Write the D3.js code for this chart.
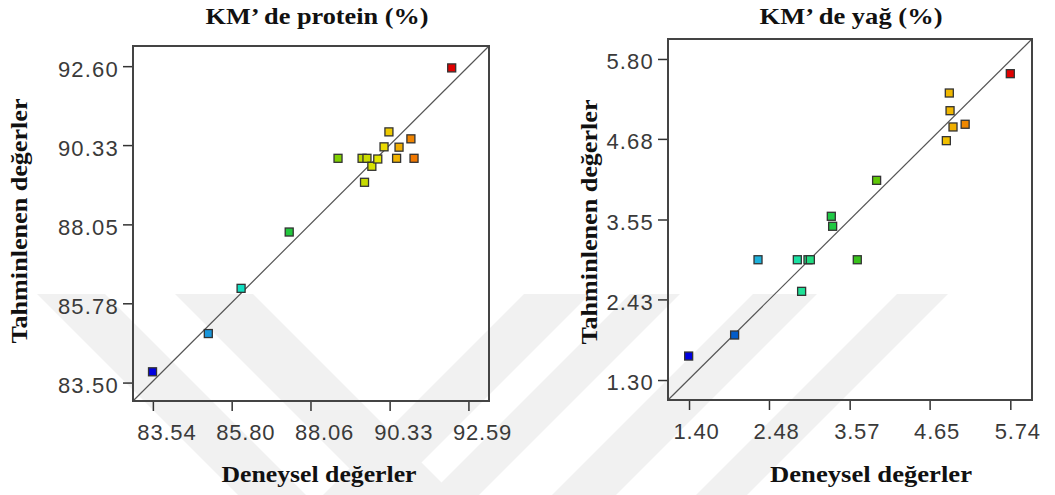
<!DOCTYPE html>
<html>
<head>
<meta charset="utf-8">
<script src="https://cdn.jsdelivr.net/npm/d3@7"></script>
<style>
  body { margin: 0; background: #fff; }
  .tick text { font-family: "Liberation Sans", Arial, sans-serif; font-size: 22px; fill: #3a3a3a; }
  .lbl { font-family: "Liberation Serif", "Times New Roman", serif; font-weight: bold; font-size: 24px; fill: #111; }
</style>
</head>
<body>
<div id="chart"></div>
<script>
var proteinTitle = "KM\u2019 de protein (%)";
var proteinExp  = [83.53, 85.13, 86.07, 87.45, 88.85, 89.54, 89.68, 89.82, 89.61, 89.99, 90.17, 90.31, 90.60, 90.53, 90.94, 91.03, 92.11];
var proteinPred = [83.81, 84.91, 86.21, 87.83, 89.95, 89.95, 89.95, 89.72, 89.26, 89.93, 90.28, 90.71, 90.27, 89.95, 90.51, 89.95, 92.55];
var proteinXTicks = [83.54, 85.80, 88.06, 90.33, 92.59];
var proteinYTicks = [83.50, 85.78, 88.05, 90.33, 92.60];
var proteinDomain = [82.97, 93.18];

var fatTitle = "KM\u2019 de ya\u011f (%)";
var fatExp  = [1.395, 2.016, 2.332, 2.863, 2.921, 3.007, 3.039, 3.322, 3.340, 3.673, 3.934, 4.876, 4.916, 4.926, 4.966, 5.13, 5.74];
var fatPred = [1.636, 1.931, 2.986, 2.986, 2.543, 2.986, 2.986, 3.595, 3.455, 2.986, 4.099, 4.655, 5.323, 5.075, 4.847, 4.885, 5.594];
var fatXTicks = [1.40, 2.48, 3.57, 4.65, 5.74];
var fatYTicks = [1.30, 2.43, 3.55, 4.68, 5.80];
var fatXDomain = [1.116, 6.033];
var fatYDomain = [1.02, 6.08];

var xLabel = "Deneysel de\u011ferler";
var yLabel = "Tahminlenen de\u011ferler";

var svgWidth = 1055;
var svgHeight = 495;

var svg = d3.select("#chart")
  .append("svg")
  .attr("width", svgWidth)
  .attr("height", svgHeight);

// faint watermark bands behind the charts (top edge at y~294, 45 degrees)
var bands = [
  { x0: 37, x1: 105, dir: 1 },
  { x0: 175, x1: 253, dir: 1 },
  { x0: 524, x1: 590, dir: -1 },
  { x0: 630, x1: 680, dir: -1 },
  { x0: 753, x1: 817, dir: -1 },
  { x0: 897, x1: 948, dir: -1 }
];
var bandTop = 294;
var drop = svgHeight - bandTop;
svg.append("g")
  .selectAll("polygon")
  .data(bands)
  .enter()
  .append("polygon")
  .attr("points", b => [
    [b.x0, bandTop], [b.x1, bandTop],
    [b.x1 + b.dir * drop, svgHeight], [b.x0 + b.dir * drop, svgHeight]
  ].join(" "))
  .attr("fill", "#f1f1f1");

// jet-like colours, by experimental value
var colorStops = [0, 0.14, 0.2, 0.3, 0.36, 0.45, 0.55, 0.62, 0.7, 0.76, 0.8, 0.84, 0.88, 1];
var colorRange = ["#0000e0", "#0058c8", "#20a8e0", "#10e0c0", "#20e090", "#20c840", "#40c010",
                  "#80d000", "#c0d800", "#e8e800", "#f0c000", "#f0a000", "#f07000", "#e00000"];

function drawPanel(p) {
  var g = svg.append("g")
    .attr("transform", `translate(${p.left}, ${p.top})`);

  var xScale = d3.scaleLinear().domain(p.xDomain).range([0, p.width]);
  var yScale = d3.scaleLinear().domain(p.yDomain).range([p.height, 0]);

  var tScale = d3.scaleLinear().domain(d3.extent(p.xs)).range([0, 1]);
  var color = d3.scaleLinear().domain(colorStops).range(colorRange);

  // x axis
  var xAxis = g.append("g")
    .attr("transform", `translate(0, ${p.height})`)
    .call(d3.axisBottom(xScale).tickValues(p.xTicks).tickSize(10).tickFormat(d3.format(".2f")));
  xAxis.select(".domain").remove();
  xAxis.selectAll("line").attr("stroke", "#333").attr("stroke-width", 1.5);
  xAxis.selectAll("text")
    .attr("text-anchor", "start")
    .attr("x", -16)
    .attr("y", 39)
    .attr("dy", null)
    .style("letter-spacing", "0.8px");

  // y axis
  var yAxis = g.append("g")
    .call(d3.axisLeft(yScale).tickValues(p.yTicks).tickSize(10).tickFormat(d3.format(".2f")));
  yAxis.select(".domain").remove();
  yAxis.selectAll("line").attr("stroke", "#333").attr("stroke-width", 1.5);
  yAxis.selectAll("text")
    .attr("x", -14)
    .attr("dy", "0.45em")
    .style("letter-spacing", "1.2px");

  // reference line
  g.append("line")
    .attr("x1", xScale(p.xDomain[0]))
    .attr("y1", yScale(p.yDomain[0]))
    .attr("x2", xScale(p.xDomain[1]))
    .attr("y2", yScale(p.yDomain[1]))
    .attr("stroke", "#555")
    .attr("stroke-width", 1.2);

  // points
  g.selectAll("rect.pt")
    .data(p.xs)
    .enter()
    .append("rect")
    .attr("class", "pt")
    .attr("x", (d, i) => xScale(d) - 4)
    .attr("y", (d, i) => yScale(p.ys[i]) - 4)
    .attr("width", 8)
    .attr("height", 8)
    .attr("fill", d => color(tScale(d)))
    .attr("stroke", "#333")
    .attr("stroke-width", 1.3);

  // frame
  g.append("rect")
    .attr("width", p.width)
    .attr("height", p.height)
    .attr("fill", "none")
    .attr("stroke", "#444")
    .attr("stroke-width", 2);

  // labels (stretched a bit, the original font is wider)
  svg.append("text")
    .attr("class", "lbl")
    .attr("x", p.titleX)
    .attr("y", 24)
    .attr("text-anchor", "middle")
    .attr("textLength", p.titleLen)
    .attr("lengthAdjust", "spacingAndGlyphs")
    .text(p.title);

  svg.append("text")
    .attr("class", "lbl")
    .attr("x", p.xLabelX)
    .attr("y", 482)
    .attr("text-anchor", "middle")
    .attr("textLength", p.xLabelLen)
    .attr("lengthAdjust", "spacingAndGlyphs")
    .text(xLabel);

  svg.append("text")
    .attr("class", "lbl")
    .attr("transform", `translate(${p.yLabelX}, ${p.yLabelY}) rotate(-90)`)
    .attr("text-anchor", "middle")
    .attr("textLength", 245)
    .attr("lengthAdjust", "spacingAndGlyphs")
    .text(yLabel);
}

drawPanel({
  left: 133, top: 46, width: 356, height: 355,
  xs: proteinExp, ys: proteinPred,
  xDomain: proteinDomain, yDomain: proteinDomain,
  xTicks: proteinXTicks, yTicks: proteinYTicks,
  title: proteinTitle, titleX: 317, titleLen: 223,
  xLabelX: 319, xLabelLen: 195,
  yLabelX: 27, yLabelY: 221
});

drawPanel({
  left: 668, top: 39, width: 364, height: 361,
  xs: fatExp, ys: fatPred,
  xDomain: fatXDomain, yDomain: fatYDomain,
  xTicks: fatXTicks, yTicks: fatYTicks,
  title: fatTitle, titleX: 851, titleLen: 183,
  xLabelX: 871, xLabelLen: 202,
  yLabelX: 597, yLabelY: 222
});
</script>
</body>
</html>
